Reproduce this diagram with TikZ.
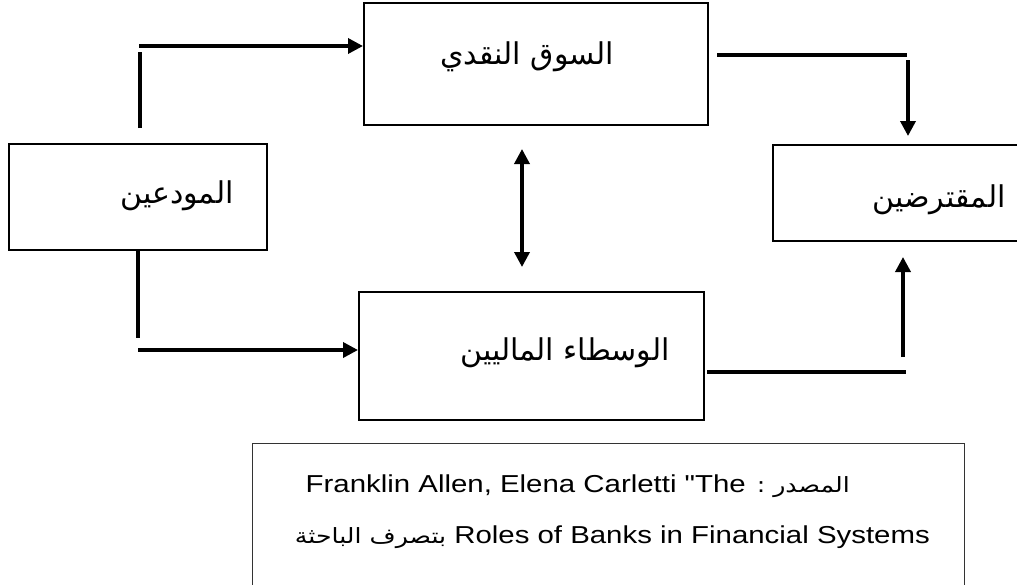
\documentclass[tikz,border=0pt]{standalone}
\usepackage{fontspec}
\setmainfont{Liberation Sans}
% family without the TeX mapping, so that " stays a straight quote
\newfontfamily\latinfont{Liberation Sans}
\newfontfamily\arabicfont[Script=Arabic]{DejaVu Sans}
\TeXXeTstate=1
\usetikzlibrary{arrows.meta}
\tikzset{
  box/.style={draw=black, line width=2pt, rectangle, inner sep=0pt},
  srcbox/.style={draw=black!80, line width=1pt},
  conn/.style={line width=3.5pt, line cap=butt},
  arr/.style={conn, -{Triangle[length=15pt,width=15pt]}},
  darr/.style={conn, {Triangle[length=15pt,width=15pt]}-{Triangle[length=15pt,width=15pt]}},
  artext/.style={font=\arabicfont\fontsize{30}{36}\selectfont, inner sep=0pt},
  srctext/.style={font=\latinfont\fontsize{24.5}{30}\selectfont, inner sep=0pt, anchor=base east},
}
% Arabic words inside the source note
\newcommand{\srcar}{\arabicfont\fontsize{21}{26}\selectfont}
% the note is set slightly wide
\newcommand{\wide}[1]{\scalebox{1.2}[1]{#1}}
\begin{document}
\begin{tikzpicture}[x=1pt, y=-1pt]
  \useasboundingbox (0,0) rectangle (1017,584);
  \clip (0,0) rectangle (1017,584);

  % boxes
  \node[box, minimum width=344pt, minimum height=122pt] (market) at (536,64) {};
  \node[box, minimum width=258pt, minimum height=106pt] (dep) at (138,197) {};
  \node[box, minimum width=270pt, minimum height=96pt] (borr) at (908,193) {};
  \node[box, minimum width=345pt, minimum height=128pt] (inter) at (531.5,356) {};

  % labels
  \node[artext] (tmarket) at (527,57) {\beginR السوق النقدي\endR};
  \node[artext] (tdep) at (177,196) {\beginR المودعين\endR};
  \node[artext] (tborr) at (939,200) {\beginR المقترضين\endR};
  \node[artext] (tinter) at (565,353) {\beginR الوسطاء الماليين\endR};

  % source box
  \draw[srcbox] (252,443) rectangle (964,600);
  \node[srctext] (l1) at (850,492) {\wide{\beginR{\srcar المصدر :} \beginL Franklin Allen, Elena Carletti "The\endL\endR}};
  \node[srctext] (l2) at (930,543) {\wide{\beginR\beginL Roles of Banks in Financial Systems\endL{} {\srcar بتصرف الباحثة}\endR}};

  % depositors -> money market
  \coordinate (a1) at (140,128);
  \coordinate (a2) at (140,52);
  \coordinate (a3) at (139,46);
  \draw[conn] (a1) -- (a2);
  \draw[arr] (a3) -- (a3 -| market.west);

  % depositors -> intermediaries
  \coordinate (b1) at (138,338);
  \coordinate (b2) at (138,350);
  \draw[conn] (dep.south -| b1) -- (b1);
  \draw[arr] (b2) -- (b2 -| inter.west);

  % money market -> borrowers
  \coordinate (c1) at (717,55);
  \coordinate (c2) at (907,55);
  \coordinate (c3) at (908,60);
  \coordinate (c4) at (908,136);
  \draw[conn] (c1) -- (c2);
  \draw[arr] (c3) -- (c4);

  % intermediaries -> borrowers
  \coordinate (d1) at (707,372);
  \coordinate (d2) at (906,372);
  \coordinate (d3) at (903,357);
  \coordinate (d4) at (903,257);
  \draw[conn] (d1) -- (d2);
  \draw[arr] (d3) -- (d4);

  % money market <-> intermediaries
  \coordinate (e1) at (522,149);
  \coordinate (e2) at (522,267);
  \draw[darr] (e1) -- (e2);
\end{tikzpicture}
\end{document}
